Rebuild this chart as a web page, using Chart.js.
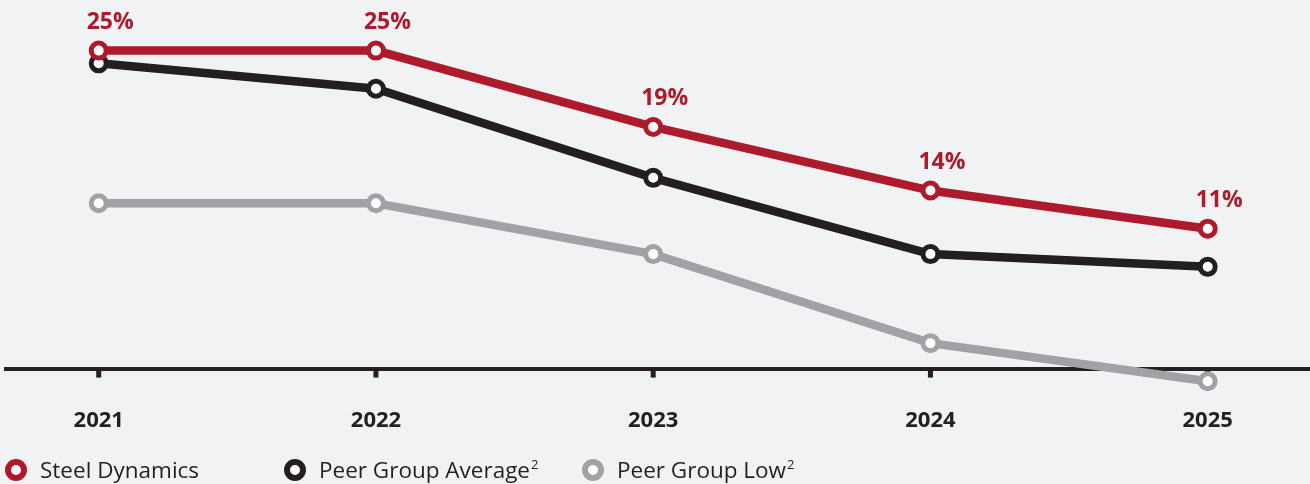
<!DOCTYPE html>
<html lang="en">
<head>
  <meta charset="UTF-8">
  <title>Steel Dynamics vs Peer Group</title>
  <script src="https://cdn.jsdelivr.net/npm/chart.js"></script>
  <style>
    html, body { margin: 0; padding: 0; background: #f1f2f4; }
    .chart-wrapper { position: relative; width: 1310px; height: 484px; font-family: "Open Sans", sans-serif; color: #231f20; }
    .legend { position: absolute; top: 456px; left: 0; height: 28px; width: 100%; }
    .legend-item { position: absolute; top: 0; display: flex; align-items: center; font-size: 22.5px; line-height: 28px; white-space: nowrap; }
    .legend-item .dot { width: 10px; height: 10px; border-radius: 50%; border: 6px solid; background: #fff; margin-right: 13px; }
    .legend-item sup { font-size: 13px; vertical-align: 9px; line-height: 0; margin-left: 1px; }
  </style>
</head>
<body>
  <div class="chart-wrapper">
    <canvas id="returnChart"></canvas>
    <div class="legend">
      <div class="legend-item" style="left:5px;"><span class="dot" style="border-color:#ad1a2c;"></span><span>Steel Dynamics</span></div>
      <div class="legend-item" style="left:284px;"><span class="dot" style="border-color:#231f20;"></span><span>Peer Group Average<sup>2</sup></span></div>
      <div class="legend-item" style="left:582px;"><span class="dot" style="border-color:#a1a2a5;"></span><span>Peer Group Low<sup>2</sup></span></div>
    </div>
  </div>

  <script>
    const years = ['2021', '2022', '2023', '2024', '2025'];
    const steelDynamics = [25, 25, 19, 14, 11];
    const peerAverage = [24, 22, 15, 9, 8];
    const peerLow = [13, 13, 9, 2, -1];

    const RED = '#ad1a2c', BLACK = '#231f20', GREY = '#a1a2a5';

    function toPoints(values) {
      return values.map((v, i) => ({ x: i, y: v }));
    }

    function lineSet(label, values, color) {
      return {
        label,
        data: toPoints(values),
        borderColor: color,
        borderWidth: 8.5,
        pointRadius: 7.5,
        pointHoverRadius: 7.5,
        pointBorderWidth: 5,
        pointBorderColor: color,
        pointBackgroundColor: '#ffffff',
        tension: 0
      };
    }

    // small tick marks hanging under the zero line
    const tickMarks = {
      id: 'tickMarks',
      beforeDatasetsDraw(chart) {
        const { ctx, scales: { x, y } } = chart;
        const zero = y.getPixelForValue(0);
        ctx.save();
        ctx.fillStyle = BLACK;
        x.ticks.forEach(t => {
          const px = x.getPixelForValue(t.value);
          ctx.fillRect(px - 2.5, zero + 1, 5, 8);
        });
        ctx.restore();
      }
    };

    // percentage labels above the Steel Dynamics points (dataset 0)
    const valueLabels = {
      id: 'valueLabels',
      afterDatasetsDraw(chart) {
        const { ctx } = chart;
        const meta = chart.getDatasetMeta(0);
        ctx.save();
        ctx.fillStyle = RED;
        ctx.font = 'bold 23px "Open Sans", sans-serif';
        ctx.textAlign = 'left';
        ctx.textBaseline = 'middle';
        meta.data.forEach((pt, i) => {
          ctx.fillText(steelDynamics[i] + '%', pt.x - 12, pt.y - 28);
        });
        ctx.restore();
      }
    };

    const ctx = document.getElementById('returnChart').getContext('2d');
    new Chart(ctx, {
      type: 'line',
      data: {
        datasets: [
          lineSet('Steel Dynamics', steelDynamics, RED),
          lineSet('Peer Group Average', peerAverage, BLACK),
          lineSet('Peer Group Low', peerLow, GREY)
        ]
      },
      options: {
        responsive: true,
        maintainAspectRatio: false,
        animation: false,
        layout: { autoPadding: false, padding: { top: 0, left: 4, right: 0, bottom: 41 } },
        plugins: { legend: { display: false }, tooltip: { enabled: false } },
        scales: {
          x: {
            type: 'linear',
            min: -0.3416,
            max: 4.369,
            grid: { display: false, drawTicks: false },
            border: { display: false },
            afterBuildTicks: scale => { scale.ticks = years.map((_, i) => ({ value: i })); },
            ticks: {
              padding: 9,
              autoSkip: false,
              maxRotation: 0,
              color: BLACK,
              font: { family: '"Open Sans", sans-serif', size: 22, weight: 'bold' },
              callback: v => years[v]
            }
          },
          y: {
            min: -2.36,
            max: 28.98,
            afterBuildTicks: scale => { scale.ticks = [{ value: 0 }]; },
            grid: { color: BLACK, lineWidth: 4, drawTicks: false },
            border: { display: false },
            ticks: { display: false }
          }
        }
      },
      plugins: [tickMarks, valueLabels]
    });
  </script>
</body>
</html>
